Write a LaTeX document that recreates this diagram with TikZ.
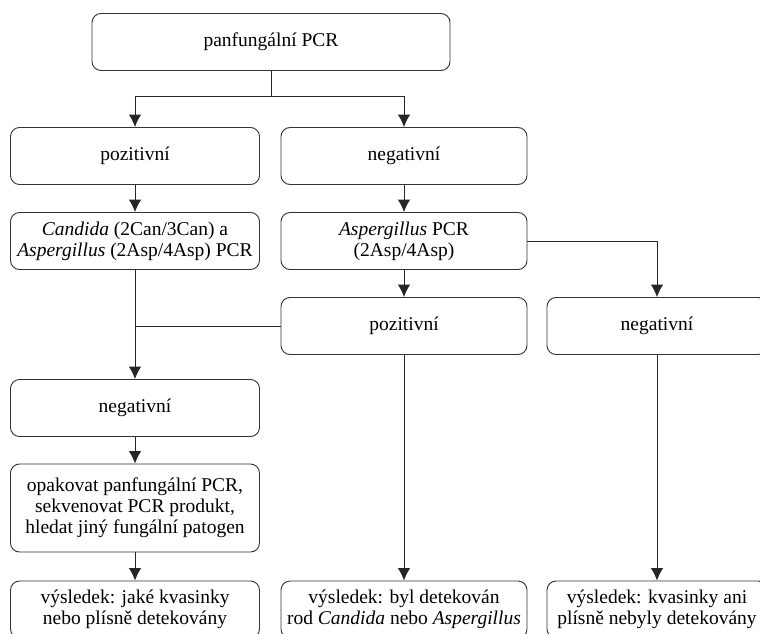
\documentclass[tikz,border=0pt]{standalone}
\usepackage{fontspec}
\setmainfont{Liberation Serif}
\usepackage{tikz}
\usetikzlibrary{arrows.meta}

\begin{document}
\begin{tikzpicture}[x=1pt,y=1pt]

        \def\sizefont{\fontsize{19.5}{21}\selectfont}
        \tikzstyle{flowbox}=[draw=black!80,line width=0.9pt,rounded corners=9pt,
            minimum height=57pt,align=center,inner sep=2pt,font=\sizefont]
        \tikzstyle{flowarrow}=[draw=black!85,line width=0.9pt,-{Latex[length=12.5pt,width=12.5pt]}]
        \tikzstyle{flowline}=[draw=black!85,line width=0.9pt]

        \clip (0,0) rectangle (760,-634);
        \useasboundingbox (0,0) rectangle (760,-634);

        %% Top
        \node [flowbox,minimum width=358pt] (pcr) at (271,-42) {panfungální PCR};

        %% Second row
        \node [flowbox,minimum width=249pt] (pos1) at (135,-156) {pozitivní};
        \node [flowbox,minimum width=246pt] (neg1) at (404,-156) {negativní};

        %% Third row
        \node [flowbox,minimum width=249pt] (candpcr) at (135,-241)
            {\textit{Candida} (2Can/3Can) a\\\textit{Aspergillus} (2Asp/4Asp) PCR};
        \node [flowbox,minimum width=246pt] (asppcr) at (404,-241)
            {\textit{Aspergillus} PCR\\(2Asp/4Asp)};

        %% Fourth row
        \node [flowbox,minimum width=246pt] (pos2) at (404,-326) {pozitivní};
        \node [flowbox,minimum width=220pt] (neg2) at (657,-326) {negativní};

        %% Left column
        \node [flowbox,minimum width=249pt] (neg3) at (135,-408) {negativní};
        \node [flowbox,minimum width=249pt,minimum height=88pt] (repeat) at (135,-508)
            {opakovat panfungální PCR,\\sekvenovat PCR produkt,\\hledat jiný fungální patogen};

        %% Results
        \node [flowbox,minimum width=249pt] (res1) at (135,-609.5)
            {výsledek: jaké kvasinky\\nebo plísně detekovány};
        \node [flowbox,minimum width=246pt] (res2) at (404,-609.5)
            {výsledek: byl detekován\\rod \textit{Candida} nebo \textit{Aspergillus}};
        \node [flowbox,minimum width=220pt] (res3) at (657,-609.5)
            {výsledek: kvasinky ani\\plísně nebyly detekovány};

        %% Connectors
        \coordinate (split) at (271,-96);
        \draw [flowline] (pcr) -- (split);
        \draw [flowarrow] (split) -| (pos1);
        \draw [flowarrow] (split) -| (neg1);
        \draw [flowarrow] (pos1) -- (candpcr);
        \draw [flowarrow] (neg1) -- (asppcr);
        \draw [flowarrow] (asppcr) -- (pos2);
        \draw [flowarrow] (asppcr) -| (neg2);
        \draw [flowarrow] (candpcr) -- (neg3);
        \draw [flowline] (pos2.west) -- (pos2.west -| candpcr);
        \draw [flowarrow] (neg3) -- (repeat);
        \draw [flowarrow] (repeat) -- (res1);
        \draw [flowarrow] (pos2) -- (res2);
        \draw [flowarrow] (neg2) -- (res3);

\end{tikzpicture}
\end{document}
